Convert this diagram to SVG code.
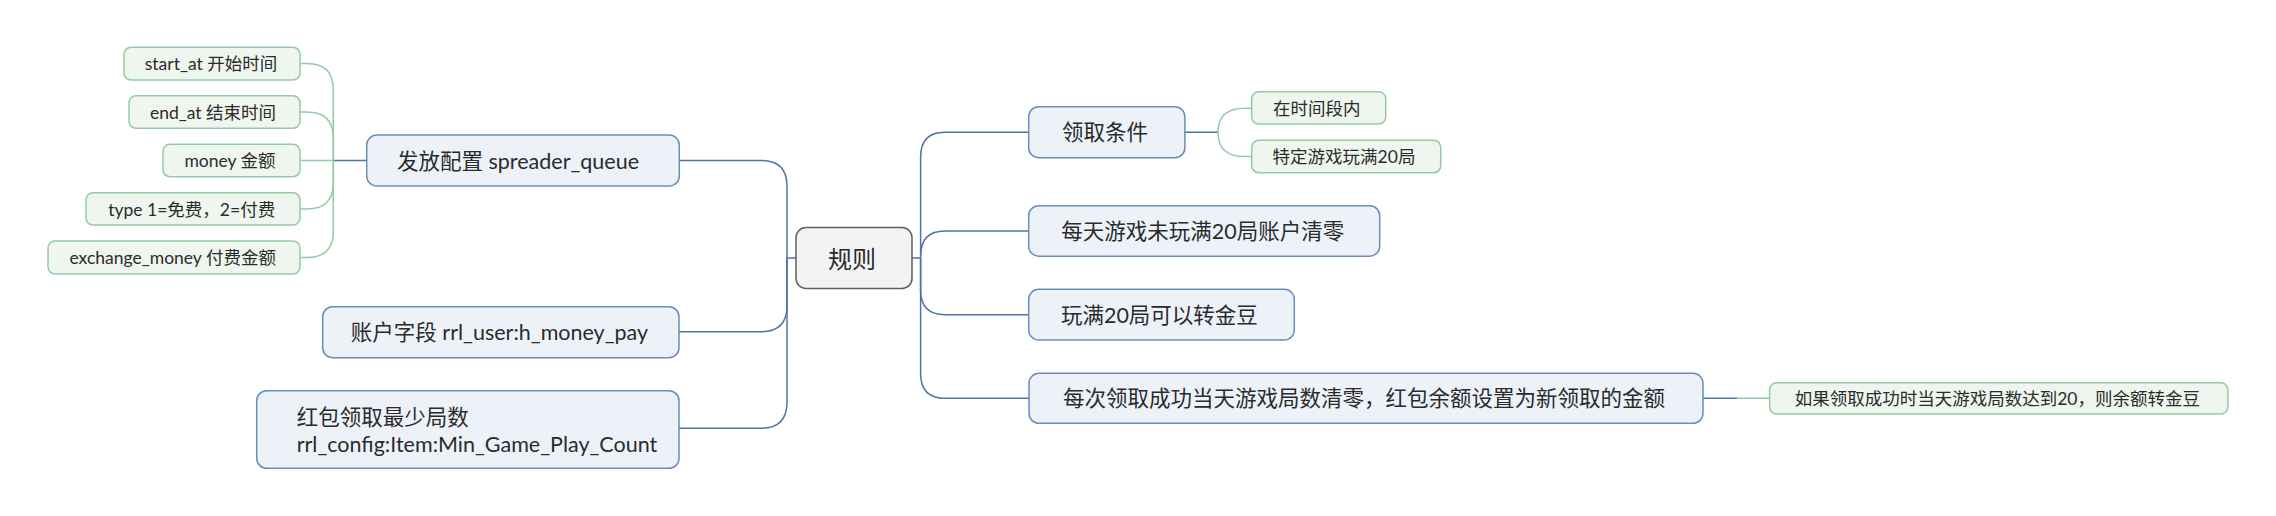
<svg xmlns="http://www.w3.org/2000/svg" width="2276" height="516" viewBox="0 0 2276 516">
<style>
text{font-family:Lato,"Noto Sans CJK SC",sans-serif;fill:#2b2b2b;dominant-baseline:central}
.root rect{fill:#f3f3f3;stroke:#5f5f5f;stroke-width:1.5}
.root text{font-size:24px;text-anchor:middle}
.l1 rect{fill:#edf2f9;stroke:#6a8dbd;stroke-width:1.5}
.l1 text{font-size:21.5px;text-anchor:middle}
.l2 rect{fill:#eef6ef;stroke:#93cba3;stroke-width:1.5}
.l2 text{font-size:17.5px;text-anchor:middle}
.cb{fill:none;stroke:#4e74a6;stroke-width:1.5}
.cg{fill:none;stroke:#93cba3;stroke-width:1.5}
</style>
<g id="connectors">
<path class="cb" d="M796,258 H787"/>
<path class="cb" d="M787,258 V186 Q787,160.5 761,160.5 H679.3"/>
<path class="cb" d="M787,258 V306 Q787,331.7 761,331.7 H679"/>
<path class="cb" d="M787,258 V402 Q787,428.3 761,428.3 H679"/>
<path class="cb" d="M911.7,258 H920.6"/>
<path class="cb" d="M920.6,258 V157 Q920.6,132.2 945,132.2 H1028.7"/>
<path class="cb" d="M920.6,256 Q920.6,231 945,231 H1028.7"/>
<path class="cb" d="M920.6,258 V290 Q920.6,314.7 945,314.7 H1028.7"/>
<path class="cb" d="M920.6,258 V373.5 Q920.6,398.3 945,398.3 H1029"/>
<path class="cb" d="M1185,132.2 H1218"/>
<path class="cb" d="M1703,398.3 H1737.5"/>
<path class="cg" d="M1737.5,398.3 H1769.6"/>
<path class="cb" d="M366.7,160.5 H333.3"/>
<path class="cg" d="M333.3,160.5 V90 Q333.3,63.5 307,63.5 H300"/>
<path class="cg" d="M333.3,160.5 V138 Q333.3,112 307,112 H300"/>
<path class="cg" d="M333.3,160.5 H300"/>
<path class="cg" d="M333.3,160.5 V183 Q333.3,209 307,209 H300"/>
<path class="cg" d="M333.3,160.5 V231 Q333.3,257.5 307,257.5 H300"/>
<path class="cg" d="M1218,132.2 C1218,115 1228,108.3 1245,108.3 H1251.7"/>
<path class="cg" d="M1218,132.2 C1218,150 1228,156.5 1245,156.5 H1251.7"/>
</g>
<g id="root" class="root"><rect x="796" y="227.5" width="116" height="61" rx="10"/><text x="852" y="258">规则</text></g>
<g id="spreader" class="l1"><rect x="366.7" y="135" width="312.6" height="51" rx="10"/><text x="518" y="160.5">发放配置 spreader_queue</text></g>
<g id="user" class="l1"><rect x="322.7" y="306.7" width="356.3" height="51" rx="10"/><text x="499.5" y="332">账户字段 rrl_user:h_money_pay</text></g>
<g id="mincount" class="l1"><rect x="256.7" y="390.7" width="422.3" height="77.6" rx="10"/><text x="296.7" y="416.5" style="text-anchor:start">红包领取最少局数</text><text x="296.7" y="444" style="text-anchor:start">rrl_config:Item:Min_Game_Play_Count</text></g>
<g id="cond" class="l1"><rect x="1028.7" y="106.7" width="156.2" height="51" rx="10"/><text x="1105" y="132.2">领取条件</text></g>
<g id="daily" class="l1"><rect x="1028.7" y="205.7" width="351" height="50.5" rx="10"/><text x="1202.7" y="231">每天游戏未玩满20局账户清零</text></g>
<g id="transfer" class="l1"><rect x="1028.7" y="289.3" width="265.6" height="50.7" rx="10"/><text x="1159.4" y="314.7">玩满20局可以转金豆</text></g>
<g id="reset" class="l1"><rect x="1029" y="373.3" width="674" height="50" rx="10"/><text x="1364" y="398.3">每次领取成功当天游戏局数清零，红包余额设置为新领取的金额</text></g>
<g id="start_at" class="l2"><rect x="124" y="47.3" width="176" height="32.7" rx="7"/><text x="211" y="63.5">start_at 开始时间</text></g>
<g id="end_at" class="l2"><rect x="129" y="95.7" width="171" height="32.6" rx="7"/><text x="213" y="112">end_at 结束时间</text></g>
<g id="money" class="l2"><rect x="163" y="144.3" width="137" height="32.4" rx="7"/><text x="230" y="160.5">money 金额</text></g>
<g id="type" class="l2"><rect x="86" y="192.7" width="214" height="32.3" rx="7"/><text x="191.7" y="209">type 1=免费，2=付费</text></g>
<g id="exchange" class="l2"><rect x="48" y="241" width="252" height="33" rx="7"/><text x="172.7" y="257.5">exchange_money 付费金额</text></g>
<g id="intime" class="l2"><rect x="1251.7" y="91.7" width="134" height="32.3" rx="7"/><text x="1316.7" y="108">在时间段内</text></g>
<g id="game20" class="l2"><rect x="1251.7" y="140.3" width="189" height="32.4" rx="7"/><text x="1344" y="156.5">特定游戏玩满20局</text></g>
<g id="ifsuccess" class="l2"><rect x="1769.6" y="382.7" width="458.3" height="31.3" rx="7"/><text x="1997.3" y="398.3">如果领取成功时当天游戏局数达到20，则余额转金豆</text></g>
</svg>
